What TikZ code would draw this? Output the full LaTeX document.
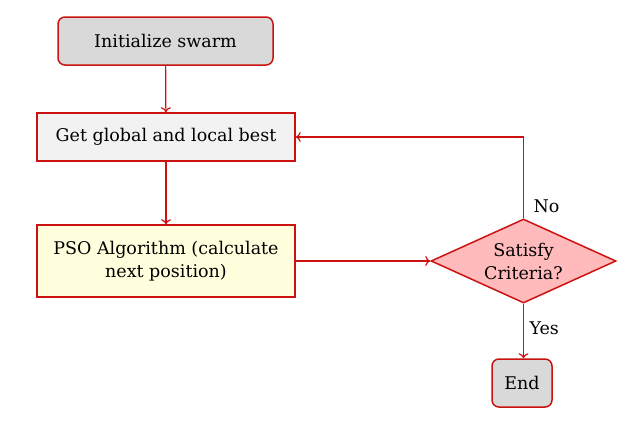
\documentclass[tikz,border=0pt]{standalone}
\usepackage{fontspec}
\setmainfont{DejaVu Serif}
\usetikzlibrary{shapes.geometric,arrows.meta}
\definecolor{redline}{HTML}{CC1111}
\definecolor{grayfill}{HTML}{D9D9D9}
\definecolor{lightfill}{HTML}{F2F2F2}
\definecolor{yellowfill}{HTML}{FFFFDD}
\definecolor{pinkfill}{HTML}{FFBBBB}
\begin{document}
\begin{tikzpicture}[x=1pt,y=-1pt,
  base/.style={draw=redline,line width=1.5pt,font=\fontsize{17.5}{23}\selectfont,align=center,inner sep=0pt},
  startbox/.style={base,rounded corners=7pt,fill=grayfill},
  procbox/.style={base,minimum width=258pt,minimum height=48pt},
  decbox/.style={base,diamond,aspect=2.2,fill=pinkfill,minimum width=185pt,minimum height=84pt},
  conn/.style={draw=redline,line width=1.2pt,-{To[length=5pt,width=10pt]}},
  lbl/.style={font=\fontsize{17.5}{23}\selectfont}]
\useasboundingbox (0,0) rectangle (640,437);
\node[startbox,minimum width=215pt,minimum height=48pt] (init) at (165.5,41) {Initialize swarm};
\node[procbox,fill=lightfill] (best) at (166,137) {Get global and local best};
\node[procbox,fill=yellowfill,minimum height=72pt] (pso) at (166,261) {PSO Algorithm (calculate\\next position)};
\node[decbox] (dec) at (523.5,261) {};
\node[lbl,align=center] at (523.5,261) {Satisfy\\Criteria?};
\node[startbox,minimum width=60pt,minimum height=48pt] (end) at (522,383) {End};
\draw[conn] (init) -- (best);
\draw[conn] (best) -- (pso);
\draw[conn] (pso) -- (dec);
\draw[conn] (dec.north) |- (best.east);
\draw[conn] (dec.south) -- (end.north -| dec.south);
\node[lbl,anchor=west] at (530,206) {No};
\node[lbl,anchor=west] at (526,328) {Yes};
\end{tikzpicture}
\end{document}
